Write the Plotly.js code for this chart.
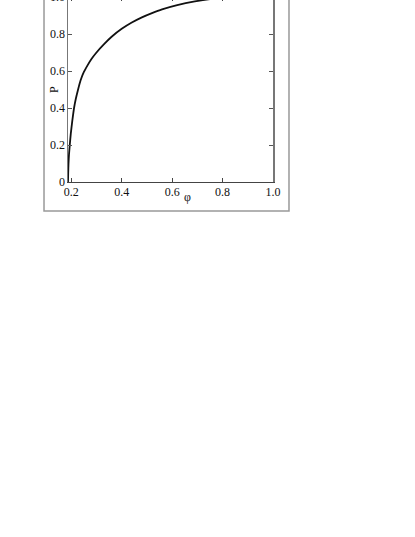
<!DOCTYPE html>
<html>
<head>
<meta charset="utf-8">
<script src="https://cdn.plot.ly/plotly-3.0.1.min.js"></script>
<style>
  body { margin: 0; background: #fff; overflow: hidden; }
  #chart { position: absolute; left: 0; top: -40px; width: 415px; height: 260px; }
</style>
</head>
<body>
<div id="chart"></div>
<script>
// curve: P against phi
var phi = [0.187, 0.1878, 0.189, 0.191, 0.194, 0.198, 0.204, 0.211, 0.218, 0.226, 0.237, 0.25, 0.265, 0.28, 0.30, 0.33, 0.36, 0.40, 0.44, 0.48, 0.52, 0.56, 0.62, 0.69, 0.75, 0.85, 1.0];
var P = [0, 0.05, 0.10, 0.15, 0.20, 0.26, 0.33, 0.40, 0.45, 0.495, 0.55, 0.595, 0.632, 0.665, 0.70, 0.745, 0.785, 0.828, 0.862, 0.890, 0.913, 0.933, 0.956, 0.976, 0.988, 0.997, 1.0];

var xTicks = [0.2, 0.4, 0.6, 0.8, 1.0];
var xTickText = ['0.2', '0.4', '0.6', '0.8', '1.0'];
var yTicks = [0, 0.2, 0.4, 0.6, 0.8, 1.0];
var yTickText = ['0', '0.2', '0.4', '0.6', '0.8', '1.0'];

var serif = 'Liberation Serif, DejaVu Serif, serif';

var data = [{
  x: phi,
  y: P,
  mode: 'lines',
  type: 'scatter',
  line: {color: '#111', width: 1.8, shape: 'spline', smoothing: 0.6},
  hoverinfo: 'none'
}];

var layout = {
  width: 415,
  height: 260,
  margin: {l: 68, r: 142, t: 37, b: 38},
  paper_bgcolor: '#fff',
  plot_bgcolor: '#fff',
  showlegend: false,
  font: {family: serif, size: 12, color: '#111'},
  xaxis: {
    range: [0.187, 1.0],
    tickvals: xTicks,
    ticktext: xTickText,
    ticks: 'inside',
    ticklen: 4,
    tickcolor: '#444',
    ticklabelstandoff: -2,
    showline: true,
    linecolor: '#444',
    linewidth: 1.3,
    mirror: 'ticks',
    showgrid: false,
    zeroline: false
  },
  yaxis: {
    range: [0, 1.0],
    tickvals: yTicks,
    ticktext: yTickText,
    ticks: 'inside',
    ticklen: 4,
    tickcolor: '#555',
    ticklabelstandoff: -1,
    showline: true,
    linecolor: '#777',
    linewidth: 1.5,
    mirror: 'ticks',
    showgrid: false,
    zeroline: false
  },
  annotations: [
    {text: 'P', xref: 'paper', yref: 'paper', x: -0.0707, y: 0.5,
     textangle: -90, showarrow: false, xanchor: 'center', yanchor: 'middle',
     font: {family: serif, size: 12, color: '#111'}},
    {text: 'φ', xref: 'paper', yref: 'paper', x: 0.585, y: -0.082,
     showarrow: false, xanchor: 'center', yanchor: 'middle',
     font: {family: serif, size: 12, color: '#111'}}
  ],
  shapes: [
    // outer frame round the figure
    {type: 'rect', xref: 'paper', yref: 'paper', x0: -0.117, x1: 1.078, y0: -0.157, y1: 1.2,
     line: {color: '#999', width: 1.5}}
  ]
};

Plotly.newPlot('chart', data, layout, {staticPlot: true});
</script>
</body>
</html>
